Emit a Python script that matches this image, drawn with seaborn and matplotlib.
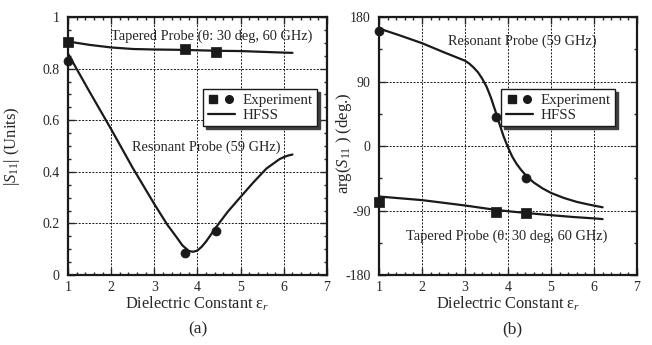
import matplotlib
matplotlib.use("Agg")
import matplotlib.pyplot as plt
import seaborn as sns
from matplotlib.lines import Line2D
from matplotlib.legend_handler import HandlerTuple
from matplotlib.ticker import MultipleLocator, FuncFormatter

# --- data ---
# (a) |S11|
eps_tap_a = [1.0, 1.5, 2.0, 2.5, 3.0, 3.5, 4.0, 4.5, 5.0, 5.5, 6.0, 6.2]
mag_tap_hfss = [0.905, 0.892, 0.882, 0.876, 0.874, 0.873, 0.871, 0.869, 0.868, 0.865, 0.862, 0.861]
eps_res_a = [1.0, 1.5, 2.0, 2.5, 3.0, 3.3, 3.5, 3.65, 3.8, 3.9, 4.0, 4.1, 4.2, 4.43, 4.7,
             5.0, 5.3, 5.6, 5.8, 5.9, 6.0, 6.1, 6.2]
mag_res_hfss = [0.858, 0.71, 0.565, 0.415, 0.275, 0.195, 0.15, 0.115, 0.093, 0.09, 0.095,
                0.11, 0.13, 0.185, 0.245, 0.303, 0.36, 0.413, 0.437, 0.449, 0.457, 0.463, 0.467]

# (b) arg(S11)
eps_tap_b = [1.0, 2.0, 3.0, 3.7, 4.0, 4.43, 5.0, 5.5, 6.0, 6.2]
ph_tap_hfss = [-70.5, -75.5, -83, -89, -91, -93.5, -96.5, -99, -101, -102]
eps_res_b = [1.0, 1.5, 2.0, 2.5, 3.0, 3.1, 3.2, 3.3, 3.4, 3.5, 3.6, 3.7, 3.8, 3.9, 4.0,
             4.1, 4.2, 4.3, 4.43, 4.6, 4.8, 5.0, 5.3, 5.6, 5.9, 6.2]
ph_res_hfss = [164, 154, 143.5, 131, 119, 115, 109.5, 103, 94, 83, 68, 50, 31, 13, -2,
               -15, -25, -33, -42, -51, -59, -65.5, -72.5, -78, -82, -85.5]

# experiment points
eps_exp = [1.0, 3.72, 4.43]
mag_tap_exp = [0.905, 0.875, 0.866]
mag_res_exp = [0.828, 0.086, 0.170]
ph_tap_exp = [-78, -91.5, -94]
ph_res_exp = [161, 41, -45]

sns.set_theme(style="ticks")
plt.rcParams["font.family"] = ["Liberation Serif", "DejaVu Serif"]
plt.rcParams["mathtext.fontset"] = "custom"
plt.rcParams["mathtext.rm"] = "Liberation Serif"
plt.rcParams["mathtext.it"] = "Liberation Serif:italic"
plt.rcParams["axes.unicode_minus"] = False

fig = plt.figure(figsize=(6.52, 3.45), dpi=100)
ax1 = fig.add_axes([0.1043, 0.2029, 0.3972, 0.7478])
ax2 = fig.add_axes([0.5813, 0.2029, 0.3957, 0.7478])

lw = 1.6
ms = 42

# panel (a)
sns.lineplot(x=eps_tap_a, y=mag_tap_hfss, ax=ax1, color="k", lw=lw)
sns.lineplot(x=eps_res_a, y=mag_res_hfss, ax=ax1, color="k", lw=lw)
sns.scatterplot(x=eps_exp, y=mag_tap_exp, ax=ax1, color="k", marker="s", s=ms,
                edgecolor="k", zorder=5, clip_on=False)
sns.scatterplot(x=eps_exp, y=mag_res_exp, ax=ax1, color="k", marker="o", s=ms,
                edgecolor="k", zorder=5, clip_on=False)
ax1.set_ylim(0, 1)
ax1.yaxis.set_major_locator(MultipleLocator(0.2))
ax1.yaxis.set_minor_locator(MultipleLocator(0.05))
ax1.yaxis.set_major_formatter(FuncFormatter(lambda v, p: f"{v:g}"))
ax1.set_ylabel(r"$|S_{11}|$ (Units)", fontsize=12)
ax1.yaxis.set_label_coords(-0.178, 0.5)
ax1.text(4.32, 0.924, "Tapered Probe (θ: 30 deg, 60 GHz)", ha="center", va="center", fontsize=10.4)
ax1.text(4.21, 0.497, "Resonant Probe (59 GHz)", ha="center", va="center", fontsize=10.4)

# panel (b)
sns.lineplot(x=eps_tap_b, y=ph_tap_hfss, ax=ax2, color="k", lw=lw)
sns.lineplot(x=eps_res_b, y=ph_res_hfss, ax=ax2, color="k", lw=lw)
sns.scatterplot(x=eps_exp, y=ph_tap_exp, ax=ax2, color="k", marker="s", s=ms,
                edgecolor="k", zorder=5, clip_on=False)
sns.scatterplot(x=eps_exp, y=ph_res_exp, ax=ax2, color="k", marker="o", s=ms,
                edgecolor="k", zorder=5, clip_on=False)
ax2.set_ylim(-180, 180)
ax2.yaxis.set_major_locator(MultipleLocator(90))
ax2.yaxis.set_minor_locator(MultipleLocator(45))
ax2.set_ylabel(r"arg($S_{11}$ ) (deg.)", fontsize=12)
ax2.yaxis.set_label_coords(-0.095, 0.51)
ax2.text(4.33, 145.5, "Resonant Probe (59 GHz)", ha="center", va="center", fontsize=10.4)
ax2.text(3.96, -126.5, "Tapered Probe (θ: 30 deg, 60 GHz)", ha="center", va="center", fontsize=10.4)

handles = [(Line2D([], [], color="k", marker="s", ls="", ms=5.5),
            Line2D([], [], color="k", marker="o", ls="", ms=5.5)),
           Line2D([], [], color="k", lw=lw)]
labels = ["Experiment", "HFSS"]

for ax, anchor in ((ax1, (0.961, 0.721)), (ax2, (0.915, 0.721))):
    ax.set_xlim(1, 7)
    ax.xaxis.set_major_locator(MultipleLocator(1))
    ax.xaxis.set_minor_locator(MultipleLocator(0.2))
    ax.set_xlabel(r"Dielectric Constant ε$_r$", fontsize=11.8, labelpad=1)
    ax.grid(True, which="major", color="k", lw=0.7, ls=(0, (2, 1.5)))
    ax.tick_params(which="both", direction="in", top=True, right=True, labelsize=10)
    ax.tick_params(axis="y", pad=6)
    ax.tick_params(axis="x", pad=4)
    ax.tick_params(which="major", length=5, width=1)
    ax.tick_params(which="minor", length=2.5, width=1)
    for sp in ax.spines.values():
        sp.set_linewidth(1.6)
        sp.set_color("k")
    leg = ax.legend(handles, labels, loc="upper right", bbox_to_anchor=anchor,
                    handler_map={tuple: HandlerTuple(ndivide=None, pad=0.3)},
                    fancybox=False, shadow={"color": "0.25", "alpha": 1},
                    edgecolor="k", framealpha=1, fontsize=10.8,
                    handlelength=1.8, handletextpad=0.5, borderpad=0.3,
                    labelspacing=0.1, borderaxespad=0)
    leg.get_frame().set_linewidth(1.0)

fig.text(198 / 652, 1 - 329 / 345, "(a)", ha="center", va="center", fontsize=12.5)
fig.text(512 / 652, 1 - 329 / 345, "(b)", ha="center", va="center", fontsize=12.5)

fig.savefig("out.png", dpi=100)
